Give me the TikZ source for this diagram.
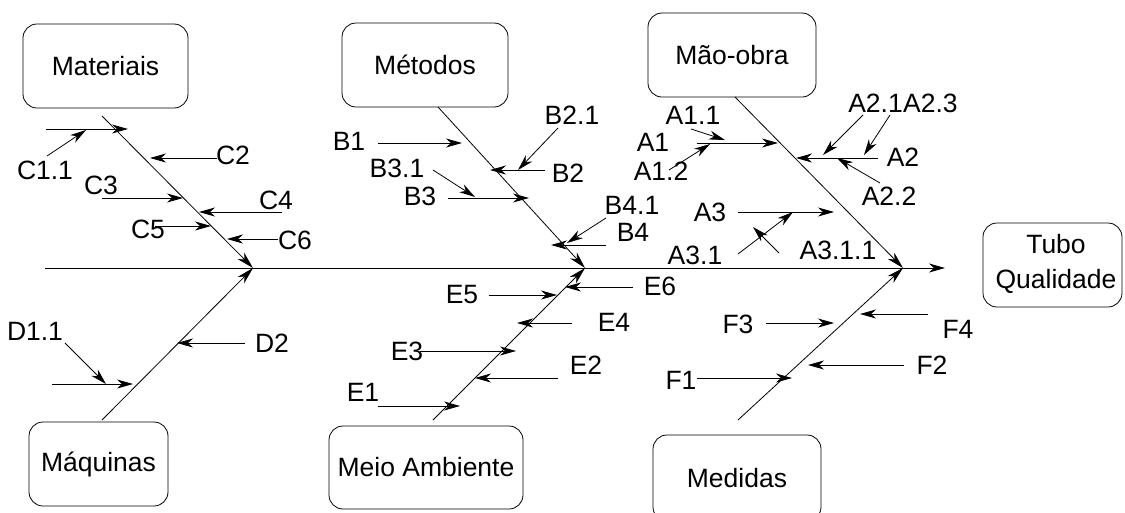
\documentclass[tikz,border=0pt]{standalone}
\usepackage{fontspec}
\setmainfont{Liberation Sans}
\usetikzlibrary{arrows.meta}
\begin{document}
\begin{tikzpicture}[x=1pt,y=-1pt,
  cat/.style={draw, rounded corners=14pt, line width=0.8pt, inner sep=0pt,
    font=\fontsize{26.5}{35}\selectfont, align=center},
  lbl/.style={inner sep=0pt, font=\fontsize{26.5}{30}\selectfont},
  arr/.style={line width=0.8pt, -{Stealth[length=16pt,width=9pt,inset=5pt]}},
  bone/.style={line width=0.8pt, -{Stealth[length=17pt,width=9pt,inset=5pt]}}]
\useasboundingbox (0,0) rectangle (1125,512);
\begin{scope}
\clip (0,0) rectangle (1125,512);
% category boxes
\node[cat, minimum width=165pt, minimum height=84pt] (mat) at (105.5,66) {Materiais};
\node[cat, minimum width=166pt, minimum height=84pt] (met) at (425,65) {Métodos};
\node[cat, minimum width=168pt, minimum height=84pt] (mao) at (732,55) {Mão-obra};
\node[cat, minimum width=139pt, minimum height=84pt] (maq) at (98.5,464) {Máquinas};
\node[cat, minimum width=194pt, minimum height=83pt] (meio) at (426,467.5) {Meio Ambiente};
\node[cat, minimum width=168pt, minimum height=86pt] (med) at (737,478) {Medidas};
\node[cat, minimum width=139pt, minimum height=84pt] (tubo) at (1052.5,265) {};
\node[inner sep=0pt, font=\fontsize{26.5}{35}\selectfont, align=center] (tubotxt) at (1056,264) {Tubo\\Qualidade};
\end{scope}

% spine and joints
\coordinate (sp0) at (45,268);
\coordinate (sp1) at (945,268);
\coordinate (jC) at (253,268);
\coordinate (jB) at (585,268);
\coordinate (jA) at (903,268);
\draw[arr] (sp0) -- (sp1);

% main bones
\coordinate (bmat) at (102,116);
\coordinate (bmaq) at (102,420);
\coordinate (bmet) at (438,107);
\coordinate (bmeio) at (433,420);
\coordinate (bmao) at (735,97);
\coordinate (bmed) at (738,420);
\draw[bone] (bmat) -- (jC);
\draw[bone] (bmaq) -- (jC);
\draw[bone] (bmet) -- (jB);
\draw[bone] (bmeio) -- (jB);
\draw[bone] (bmao) -- (jA);
\draw[bone] (bmed) -- (jA);

% labels
\node[lbl] (C11) at (45,170) {C1.1};
\node[lbl] (C2) at (233,155) {C2};
\node[lbl] (C3) at (101,185) {C3};
\node[lbl] (C4) at (276,200) {C4};
\node[lbl] (C5) at (148,229) {C5};
\node[lbl] (C6) at (295,240) {C6};
\node[lbl] (D11) at (35,331) {D1.1};
\node[lbl] (D2) at (272,343) {D2};
\node[lbl] (B1) at (349,141) {B1};
\node[lbl] (B21) at (572,115) {B2.1};
\node[lbl] (B2) at (568,173) {B2};
\node[lbl] (B31) at (397,168) {B3.1};
\node[lbl] (B3) at (420,196) {B3};
\node[lbl] (B41) at (632,205) {B4.1};
\node[lbl] (B4) at (633,232) {B4};
\node[lbl] (E1) at (363,392) {E1};
\node[lbl] (E2) at (586,365) {E2};
\node[lbl] (E3) at (407,351) {E3};
\node[lbl] (E4) at (614,322) {E4};
\node[lbl] (E5) at (462,295) {E5};
\node[lbl] (E6) at (660,286) {E6};
\node[lbl] (A11) at (693,115) {A1.1};
\node[lbl] (A1) at (653,142) {A1};
\node[lbl] (A12) at (661,171) {A1.2};
\node[lbl, anchor=east] (A21) at (903,103) {A2.1};
\node[lbl, anchor=west] (A23) at (903,103) {A2.3};
\node[lbl] (A2) at (903,157) {A2};
\node[lbl] (A22) at (889,196) {A2.2};
\node[lbl] (A3) at (710,212) {A3};
\node[lbl] (A31) at (695,255) {A3.1};
\node[lbl] (A311) at (838,250) {A3.1.1};
\node[lbl] (F1) at (681,380) {F1};
\node[lbl] (F2) at (932,365) {F2};
\node[lbl] (F3) at (738,324) {F3};
\node[lbl] (F4) at (958,329) {F4};

% Materiais causes
\coordinate (c1s) at (46,129);   \coordinate (c1t) at (128,129);
\coordinate (c11s) at (47,156);  \coordinate (c11t) at (86,130);
\coordinate (c2s) at (217,158);  \coordinate (c2t) at (150,158);
\coordinate (c3s) at (102,198);  \coordinate (c3t) at (183,198);
\coordinate (c4s) at (282,212);  \coordinate (c4t) at (199,212);
\coordinate (c5s) at (155,226);  \coordinate (c5t) at (211,226);
\coordinate (c6s) at (278,239);  \coordinate (c6t) at (227,239);
\draw[arr] (c1s) -- (c1t);
\draw[arr] (c11s) -- (c11t);
\draw[arr] (c2s) -- (c2t);
\draw[arr] (c3s) -- (c3t);
\draw[arr] (c4s) -- (c4t);
\draw[arr] (c5s) -- (c5t);
\draw[arr] (c6s) -- (c6t);

% Maquinas causes
\coordinate (d1s) at (52,384);   \coordinate (d1t) at (133,384);
\coordinate (d11s) at (65,343);  \coordinate (d11t) at (106,384);
\coordinate (d2s) at (245,343);  \coordinate (d2t) at (177,343);
\draw[arr] (d1s) -- (d1t);
\draw[arr] (d11s) -- (d11t);
\draw[arr] (d2s) -- (d2t);

% Metodos causes
\coordinate (b1s) at (378,143);  \coordinate (b1t) at (462,143);
\coordinate (b2s) at (545,170);  \coordinate (b2t) at (490,170);
\coordinate (b21s) at (558,128); \coordinate (b21t) at (518,170);
\coordinate (b3s) at (448,198);  \coordinate (b3t) at (529,198);
\coordinate (b31s) at (433,170); \coordinate (b31t) at (475,197);
\coordinate (b4s) at (606,245);  \coordinate (b4t) at (551,245);
\coordinate (b41s) at (606,218); \coordinate (b41t) at (567,243);
\draw[arr] (b1s) -- (b1t);
\draw[arr] (b2s) -- (b2t);
\draw[arr] (b21s) -- (b21t);
\draw[arr] (b3s) -- (b3t);
\draw[arr] (b31s) -- (b31t);
\draw[arr] (b4s) -- (b4t);
\draw[arr] (b41s) -- (b41t);

% Meio Ambiente causes
\coordinate (e1s) at (378,406);  \coordinate (e1t) at (460,406);
\coordinate (e2s) at (558,378);  \coordinate (e2t) at (475,378);
\coordinate (e3s) at (420,351);  \coordinate (e3t) at (516,351);
\coordinate (e4s) at (572,323);  \coordinate (e4t) at (517,323);
\coordinate (e5s) at (489,295);  \coordinate (e5t) at (557,295);
\coordinate (e6s) at (633,287);  \coordinate (e6t) at (565,287);
\draw[arr] (e1s) -- (e1t);
\draw[arr] (e2s) -- (e2t);
\draw[arr] (e3s) -- (e3t);
\draw[arr] (e4s) -- (e4t);
\draw[arr] (e5s) -- (e5t);
\draw[arr] (e6s) -- (e6t);

% Mao-obra causes
\coordinate (a1s) at (697,143);   \coordinate (a1t) at (778,143);
\coordinate (a11s) at (691,129);  \coordinate (a11t) at (725,140);
\coordinate (a12s) at (669,170);  \coordinate (a12t) at (710,144);
\coordinate (a2s) at (878,158);   \coordinate (a2t) at (796,158);
\coordinate (a21s) at (863,115);  \coordinate (a21t) at (823,155);
\coordinate (a23s) at (890,115);  \coordinate (a23t) at (864,155);
\coordinate (a22s) at (880,183);  \coordinate (a22t) at (837,158);
\coordinate (a3s) at (738,212);   \coordinate (a3t) at (834,212);
\coordinate (a31s) at (738,254);  \coordinate (a31t) at (793,212);
\coordinate (a311s) at (779,253); \coordinate (a311t) at (753,227);
\draw[arr] (a1s) -- (a1t);
\draw[arr] (a11s) -- (a11t);
\draw[arr] (a12s) -- (a12t);
\draw[arr] (a2s) -- (a2t);
\draw[arr] (a21s) -- (a21t);
\draw[arr] (a23s) -- (a23t);
\draw[arr] (a22s) -- (a22t);
\draw[arr] (a3s) -- (a3t);
\draw[arr] (a31s) -- (a31t);
\draw[arr] (a311s) -- (a311t);

% Medidas causes
\coordinate (f1s) at (697,378);  \coordinate (f1t) at (792,378);
\coordinate (f2s) at (904,365);  \coordinate (f2t) at (808,365);
\coordinate (f3s) at (766,323);  \coordinate (f3t) at (834,323);
\coordinate (f4s) at (928,314);  \coordinate (f4t) at (860,314);
\draw[arr] (f1s) -- (f1t);
\draw[arr] (f2s) -- (f2t);
\draw[arr] (f3s) -- (f3t);
\draw[arr] (f4s) -- (f4t);
\end{tikzpicture}
\end{document}
